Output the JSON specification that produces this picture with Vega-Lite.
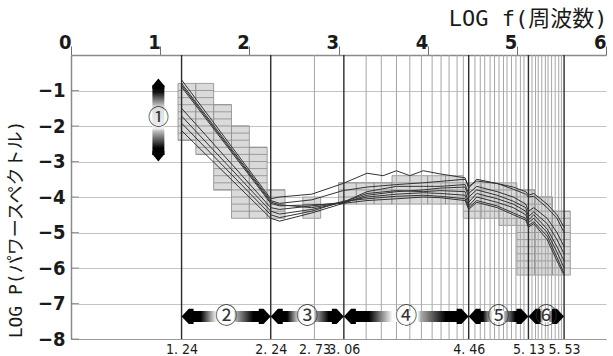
{
"$schema": "https://vega.github.io/schema/vega-lite/v6.json",
"width": 535, "height": 284,
"autosize": {"type": "none"},
"padding": {"left": 71, "top": 55, "right": 7, "bottom": 17},
"background": "white",
"config": {"view": {"stroke": null},
  "axis": {"labelFont": "Liberation Sans Narrow, DejaVu Sans Condensed, Liberation Sans", "labelColor": "#1a1a1a", "titleColor": "#1a1a1a", "domainColor": "#8a8a8a", "tickColor": "#707070", "titleFont": "DejaVu Sans Mono, Noto Sans CJK JP", "titleFontWeight": "normal"}},
"datasets": {
 "cols": [
  {"x":1.2,"x2":1.4,"y":-0.8,"y2":-2.4},{"x":1.4,"x2":1.6,"y":-0.8,"y2":-2.8},{"x":1.6,"x2":1.8,"y":-1.4,"y2":-3.8},
  {"x":1.8,"x2":2.0,"y":-2.0,"y2":-4.6},{"x":2.0,"x2":2.2,"y":-2.6,"y2":-4.6},{"x":2.2,"x2":2.4,"y":-3.8,"y2":-4.6},
  {"x":2.6,"x2":2.8,"y":-4.0,"y2":-4.6},{"x":3.0,"x2":3.2,"y":-3.6,"y2":-4.2},{"x":3.2,"x2":3.4,"y":-3.6,"y2":-4.2},
  {"x":3.4,"x2":3.6,"y":-3.6,"y2":-4.2},{"x":3.6,"x2":3.8,"y":-3.4,"y2":-4.2},{"x":3.8,"x2":4.0,"y":-3.4,"y2":-4.2},
  {"x":4.0,"x2":4.2,"y":-3.4,"y2":-4.2},{"x":4.2,"x2":4.4,"y":-3.4,"y2":-4.2},{"x":4.4,"x2":4.6,"y":-3.6,"y2":-4.6},
  {"x":4.6,"x2":4.8,"y":-3.6,"y2":-4.6},{"x":4.8,"x2":5.0,"y":-3.6,"y2":-4.8},{"x":5.0,"x2":5.2,"y":-3.8,"y2":-6.2},
  {"x":5.2,"x2":5.4,"y":-4.0,"y2":-6.2},{"x":5.4,"x2":5.6,"y":-4.4,"y2":-6.2}
 ],
 "hl": [
  {"x":1.2,"x2":1.6,"y":-1.0},{"x":1.2,"x2":1.6,"y":-1.2},{"x":1.2,"x2":1.8,"y":-1.4},{"x":1.2,"x2":1.8,"y":-1.6},
  {"x":1.2,"x2":1.8,"y":-1.8},{"x":1.2,"x2":2.0,"y":-2.0},{"x":1.2,"x2":2.0,"y":-2.2},{"x":1.2,"x2":2.0,"y":-2.4},
  {"x":1.4,"x2":2.2,"y":-2.6},{"x":1.4,"x2":2.2,"y":-2.8},{"x":1.6,"x2":2.2,"y":-3.0},{"x":1.6,"x2":2.2,"y":-3.2},
  {"x":1.6,"x2":2.2,"y":-3.4},{"x":1.6,"x2":2.2,"y":-3.6},{"x":1.6,"x2":2.4,"y":-3.8},{"x":1.8,"x2":2.4,"y":-4.0},
  {"x":1.8,"x2":2.4,"y":-4.2},{"x":1.8,"x2":2.4,"y":-4.4},{"x":2.6,"x2":2.8,"y":-4.2},{"x":2.6,"x2":2.8,"y":-4.4},
  {"x":3.0,"x2":4.4,"y":-3.6},{"x":3.0,"x2":4.4,"y":-3.8},{"x":3.0,"x2":4.4,"y":-4.0},
  {"x":4.4,"x2":5.2,"y":-3.8},{"x":4.4,"x2":5.4,"y":-4.0},{"x":4.4,"x2":5.4,"y":-4.2},{"x":4.4,"x2":5.6,"y":-4.4},
  {"x":4.8,"x2":5.6,"y":-4.6},{"x":5.0,"x2":5.6,"y":-4.8},{"x":5.0,"x2":5.6,"y":-5.0},{"x":5.0,"x2":5.6,"y":-5.2},
  {"x":5.0,"x2":5.6,"y":-5.4},{"x":5.0,"x2":5.6,"y":-5.6},{"x":5.0,"x2":5.6,"y":-5.8},{"x":5.0,"x2":5.6,"y":-6.0}
 ],
 "gray": [{"x":2.73},{"x":3.31},{"x":3.48},{"x":3.65},{"x":3.80},{"x":3.93},{"x":4.05},{"x":4.15},{"x":4.24},{"x":4.33},{"x":4.40},
  {"x":4.53},{"x":4.59},{"x":4.64},{"x":4.70},{"x":4.75},{"x":4.80},{"x":4.85},{"x":4.89},{"x":4.94},{"x":4.99},{"x":5.04},{"x":5.08},
  {"x":5.17},{"x":5.21},{"x":5.24},{"x":5.28},{"x":5.32},{"x":5.35},{"x":5.39},{"x":5.43},{"x":5.47},{"x":5.50}],
 "black": [{"x":1.24},{"x":2.24},{"x":3.06},{"x":4.46},{"x":5.13},{"x":5.53}],
 "yt": [{"y":-1},{"y":-2},{"y":-3},{"y":-4},{"y":-5},{"y":-6},{"y":-7},{"y":-8}],
 "arr": [{"a":1.24,"b":2.24,"m":1.74,"t":"②"},{"a":2.24,"b":3.06,"m":2.65,"t":"③"},{"a":3.06,"b":4.46,"m":3.76,"t":"④"},{"a":4.46,"b":5.13,"m":4.795,"t":"⑤"},{"a":5.13,"b":5.53,"m":5.33,"t":"⑥"}],
 "curves": [
  {"s":"1","x":1.24,"y":-0.70},{"s":"1","x":2.24,"y":-4.05},{"s":"1","x":2.34,"y":-4.0},{"s":"1","x":2.7,"y":-3.92},{"s":"1","x":3.05,"y":-3.62},{"s":"1","x":3.32,"y":-3.33},{"s":"1","x":3.5,"y":-3.4},{"s":"1","x":3.65,"y":-3.26},{"s":"1","x":3.8,"y":-3.4},{"s":"1","x":3.95,"y":-3.26},{"s":"1","x":4.14,"y":-3.35},{"s":"1","x":4.42,"y":-3.46},{"s":"1","x":4.46,"y":-3.75},{"s":"1","x":4.55,"y":-3.5},{"s":"1","x":4.78,"y":-3.62},{"s":"1","x":4.96,"y":-3.72},{"s":"1","x":5.10,"y":-3.85},{"s":"1","x":5.13,"y":-3.95},{"s":"1","x":5.19,"y":-3.9},{"s":"1","x":5.34,"y":-4.2},{"s":"1","x":5.45,"y":-4.5},{"s":"1","x":5.53,"y":-4.85},
  {"s":"2","x":1.24,"y":-0.80},{"s":"2","x":2.24,"y":-4.1},{"s":"2","x":2.34,"y":-4.18},{"s":"2","x":2.7,"y":-4.08},{"s":"2","x":3.05,"y":-3.82},{"s":"2","x":3.32,"y":-3.72},{"s":"2","x":3.65,"y":-3.65},{"s":"2","x":3.95,"y":-3.6},{"s":"2","x":4.14,"y":-3.56},{"s":"2","x":4.42,"y":-3.5},{"s":"2","x":4.46,"y":-3.7},{"s":"2","x":4.55,"y":-3.55},{"s":"2","x":4.78,"y":-3.62},{"s":"2","x":4.96,"y":-3.78},{"s":"2","x":5.10,"y":-3.92},{"s":"2","x":5.13,"y":-4.0},{"s":"2","x":5.19,"y":-3.98},{"s":"2","x":5.34,"y":-4.3},{"s":"2","x":5.45,"y":-4.6},{"s":"2","x":5.53,"y":-5.0},
  {"s":"3","x":1.24,"y":-0.90},{"s":"3","x":2.24,"y":-4.18},{"s":"3","x":2.34,"y":-4.25},{"s":"3","x":2.7,"y":-4.22},{"s":"3","x":3.05,"y":-4.18},{"s":"3","x":3.32,"y":-3.95},{"s":"3","x":3.65,"y":-3.85},{"s":"3","x":3.95,"y":-3.8},{"s":"3","x":4.14,"y":-3.75},{"s":"3","x":4.42,"y":-3.72},{"s":"3","x":4.46,"y":-4.0},{"s":"3","x":4.55,"y":-3.8},{"s":"3","x":4.78,"y":-3.95},{"s":"3","x":4.96,"y":-4.12},{"s":"3","x":5.10,"y":-4.3},{"s":"3","x":5.13,"y":-4.55},{"s":"3","x":5.19,"y":-4.42},{"s":"3","x":5.34,"y":-4.75},{"s":"3","x":5.45,"y":-5.2},{"s":"3","x":5.53,"y":-5.6},
  {"s":"4","x":1.24,"y":-1.50},{"s":"4","x":2.24,"y":-4.3},{"s":"4","x":2.34,"y":-4.35},{"s":"4","x":2.7,"y":-4.25},{"s":"4","x":3.05,"y":-4.15},{"s":"4","x":3.32,"y":-3.9},{"s":"4","x":3.65,"y":-3.82},{"s":"4","x":3.95,"y":-3.85},{"s":"4","x":4.14,"y":-3.82},{"s":"4","x":4.42,"y":-3.85},{"s":"4","x":4.46,"y":-4.15},{"s":"4","x":4.55,"y":-3.9},{"s":"4","x":4.78,"y":-4.05},{"s":"4","x":4.96,"y":-4.2},{"s":"4","x":5.10,"y":-4.4},{"s":"4","x":5.13,"y":-4.65},{"s":"4","x":5.19,"y":-4.5},{"s":"4","x":5.34,"y":-4.9},{"s":"4","x":5.45,"y":-5.4},{"s":"4","x":5.53,"y":-5.8},
  {"s":"5","x":1.24,"y":-1.72},{"s":"5","x":2.24,"y":-4.4},{"s":"5","x":2.34,"y":-4.48},{"s":"5","x":2.7,"y":-4.35},{"s":"5","x":3.05,"y":-4.15},{"s":"5","x":3.32,"y":-4.0},{"s":"5","x":3.65,"y":-3.92},{"s":"5","x":3.95,"y":-3.88},{"s":"5","x":4.14,"y":-3.9},{"s":"5","x":4.42,"y":-3.95},{"s":"5","x":4.46,"y":-4.25},{"s":"5","x":4.55,"y":-4.0},{"s":"5","x":4.78,"y":-4.15},{"s":"5","x":4.96,"y":-4.3},{"s":"5","x":5.10,"y":-4.5},{"s":"5","x":5.13,"y":-4.72},{"s":"5","x":5.19,"y":-4.6},{"s":"5","x":5.34,"y":-5.0},{"s":"5","x":5.45,"y":-5.55},{"s":"5","x":5.53,"y":-6.0},
  {"s":"6","x":1.24,"y":-1.92},{"s":"6","x":2.24,"y":-4.5},{"s":"6","x":2.34,"y":-4.58},{"s":"6","x":2.7,"y":-4.4},{"s":"6","x":3.05,"y":-4.12},{"s":"6","x":3.32,"y":-4.05},{"s":"6","x":3.65,"y":-3.98},{"s":"6","x":3.95,"y":-3.95},{"s":"6","x":4.14,"y":-3.98},{"s":"6","x":4.42,"y":-4.05},{"s":"6","x":4.46,"y":-4.3},{"s":"6","x":4.55,"y":-4.1},{"s":"6","x":4.78,"y":-4.25},{"s":"6","x":4.96,"y":-4.45},{"s":"6","x":5.10,"y":-4.6},{"s":"6","x":5.13,"y":-4.8},{"s":"6","x":5.19,"y":-4.7},{"s":"6","x":5.34,"y":-5.1},{"s":"6","x":5.45,"y":-5.7},{"s":"6","x":5.53,"y":-6.15},
  {"s":"7","x":1.24,"y":-2.13},{"s":"7","x":2.24,"y":-4.6},{"s":"7","x":2.34,"y":-4.68},{"s":"7","x":2.7,"y":-4.45},{"s":"7","x":3.05,"y":-4.18},{"s":"7","x":3.32,"y":-4.1},{"s":"7","x":3.65,"y":-4.05},{"s":"7","x":3.95,"y":-4.0},{"s":"7","x":4.14,"y":-4.02},{"s":"7","x":4.42,"y":-4.1},{"s":"7","x":4.46,"y":-4.35},{"s":"7","x":4.55,"y":-4.15},{"s":"7","x":4.78,"y":-4.3},{"s":"7","x":4.96,"y":-4.5},{"s":"7","x":5.10,"y":-4.65},{"s":"7","x":5.13,"y":-4.85},{"s":"7","x":5.19,"y":-4.75},{"s":"7","x":5.34,"y":-5.2},{"s":"7","x":5.45,"y":-5.8},{"s":"7","x":5.53,"y":-6.2},
  {"s":"8","x":1.24,"y":-0.85},{"s":"8","x":2.24,"y":-4.14},{"s":"8","x":2.34,"y":-4.22},{"s":"8","x":2.7,"y":-4.3},{"s":"8","x":3.05,"y":-4.15},{"s":"8","x":3.32,"y":-3.85},{"s":"8","x":3.65,"y":-3.7},{"s":"8","x":3.95,"y":-3.7},{"s":"8","x":4.14,"y":-3.7},{"s":"8","x":4.42,"y":-3.65},{"s":"8","x":4.46,"y":-3.9},{"s":"8","x":4.55,"y":-3.7},{"s":"8","x":4.78,"y":-3.85},{"s":"8","x":4.96,"y":-4.0},{"s":"8","x":5.10,"y":-4.2},{"s":"8","x":5.13,"y":-4.4},{"s":"8","x":5.19,"y":-4.3},{"s":"8","x":5.34,"y":-4.6},{"s":"8","x":5.45,"y":-5.0},{"s":"8","x":5.53,"y":-5.4}
 ]
},
"resolve": {"axis": {"x": "independent"}},
"layer": [
 {"data": {"name": "cols"},
  "mark": {"type": "rect", "fill": "#dadada", "stroke": "#8c8c8c", "strokeWidth": 0.8},
  "encoding": {
   "x": {"field": "x", "type": "quantitative", "scale": {"domain": [0, 6], "nice": false, "zero": false},
     "axis": {"orient": "top", "values": [0,1,2,3,4,5,6], "format": "d", "labelFontSize": 20, "labelFontWeight": "bold", "labelAlign": "right", "labelDx": -3,
       "labelFlush": false, "labelOverlap": false, "tickSize": 9, "labelPadding": -6, "domainWidth": 1.5, "grid": false,
       "title": "LOG f(周波数)", "titleFontSize": 22, "titleAlign": "right", "titleAnchor": "end", "titleBaseline": "middle", "titleX": 536, "titleY": -37}},
   "x2": {"field": "x2"},
   "y": {"field": "y", "type": "quantitative", "scale": {"domain": [-8, 0], "nice": false, "zero": false},
     "axis": {"values": [-1,-2,-3,-4,-5,-6,-7,-8], "labelFontSize": 20, "labelFontWeight": "bold", "ticks": false, "tickSize": 0, "labelPadding": 6, "domainWidth": 1.5,
       "grid": true, "gridColor": "#c4c4c4", "gridWidth": 1,
       "title": "LOG P(パワースペクトル)", "titleFontSize": 18, "titleAlign": "center", "titleBaseline": "middle", "titleAngle": -90, "titleX": -55, "titleY": 174}},
   "y2": {"field": "y2"}}},
 {"data": {"name": "yt"},
  "mark": {"type": "tick", "orient": "horizontal", "color": "#707070", "size": 8, "thickness": 1, "xOffset": 4},
  "encoding": {"x": {"datum": 0, "type": "quantitative", "axis": null}, "y": {"field": "y", "type": "quantitative"}}},
 {"data": {"name": "hl"},
  "mark": {"type": "rule", "color": "#8c8c8c", "strokeWidth": 0.8},
  "encoding": {"x": {"field": "x", "type": "quantitative", "axis": null}, "x2": {"field": "x2"}, "y": {"field": "y", "type": "quantitative"}}},
 {"data": {"name": "gray"},
  "mark": {"type": "rule", "color": "#a6a6a6", "strokeWidth": 1},
  "encoding": {"x": {"field": "x", "type": "quantitative", "axis": null}}},
 {"data": {"name": "black"},
  "mark": {"type": "rule", "color": "#2b2b2b", "strokeWidth": 1.4},
  "encoding": {"x": {"field": "x", "type": "quantitative",
    "axis": {"orient": "bottom", "values": [1.24,2.24,2.73,3.06,4.46,5.13,5.53], "labelExpr": "replace(format(datum.value, '.2f'), '.', '. ')",
      "ticks": false, "labelFontSize": 14, "labelPadding": 3, "labelFlush": false, "labelOverlap": false, "grid": false, "title": null,
      "domainColor": "#9a9a9a", "domainWidth": 1.2}}}},
 {"data": {"name": "curves"},
  "mark": {"type": "line", "color": "#333333", "strokeWidth": 1},
  "encoding": {"x": {"field": "x", "type": "quantitative", "axis": null}, "y": {"field": "y", "type": "quantitative"}, "detail": {"field": "s"}}},
 {"data": {"name": "arr"},
  "mark": {"type": "rect", "xOffset": 6, "x2Offset": -6,
    "fill": {"gradient": "linear", "x1": 0, "y1": 0, "x2": 1, "y2": 0, "stops": [
      {"offset": 0, "color": "#000000"}, {"offset": 0.17, "color": "#000000"}, {"offset": 0.38, "color": "#ffffff"},
      {"offset": 0.6, "color": "#ffffff"}, {"offset": 0.63, "color": "#aaaaaa"}, {"offset": 0.85, "color": "#000000"}, {"offset": 1, "color": "#000000"}]}},
  "encoding": {"x": {"field": "a", "type": "quantitative", "axis": null}, "x2": {"field": "b"}, "y": {"datum": -7.21}, "y2": {"datum": -7.52}}},
 {"data": {"name": "arr"},
  "mark": {"type": "point", "shape": "M0,0L0.9,-0.95L1.5,-0.95L1.5,0.95L0.9,0.95Z", "size": 256, "filled": true, "fill": "#000000", "strokeWidth": 0, "opacity": 1},
  "encoding": {"x": {"field": "a", "type": "quantitative", "axis": null}, "y": {"datum": -7.365}}},
 {"data": {"name": "arr"},
  "mark": {"type": "point", "shape": "M0,0L-0.9,-0.95L-1.5,-0.95L-1.5,0.95L-0.9,0.95Z", "size": 256, "filled": true, "fill": "#000000", "strokeWidth": 0, "opacity": 1},
  "encoding": {"x": {"field": "b", "type": "quantitative", "axis": null}, "y": {"datum": -7.365}}},
 {"data": {"name": "arr"},
  "mark": {"type": "text", "font": "Noto Sans CJK JP", "fontSize": 22, "color": "#333333", "baseline": "middle", "align": "center"},
  "encoding": {"x": {"field": "m", "type": "quantitative", "axis": null}, "y": {"datum": -7.365}, "text": {"field": "t"}}},
 {"data": {"values": [{"t": "①"}]},
  "mark": {"type": "rect",
    "fill": {"gradient": "linear", "x1": 0, "y1": 0, "x2": 0, "y2": 1, "stops": [
      {"offset": 0, "color": "#000000"}, {"offset": 0.1, "color": "#111111"}, {"offset": 0.32, "color": "#dddddd"},
      {"offset": 0.62, "color": "#eeeeee"}, {"offset": 0.66, "color": "#bbbbbb"}, {"offset": 0.9, "color": "#000000"}, {"offset": 1, "color": "#000000"}]}},
  "encoding": {"x": {"datum": 0.913, "type": "quantitative", "axis": null}, "x2": {"datum": 1.047}, "y": {"datum": -0.85}, "y2": {"datum": -2.82}}},
 {"data": {"values": [{"t": "①"}]},
  "mark": {"type": "point", "shape": "M0,0L0.75,0.9L0.75,1.3L-0.75,1.3L-0.75,0.9Z", "size": 256, "filled": true, "fill": "#000000", "strokeWidth": 0, "opacity": 1},
  "encoding": {"x": {"datum": 0.98, "type": "quantitative", "axis": null}, "y": {"datum": -0.66}}},
 {"data": {"values": [{"t": "①"}]},
  "mark": {"type": "point", "shape": "M0,0L0.75,-0.9L0.75,-1.3L-0.75,-1.3L-0.75,-0.9Z", "size": 256, "filled": true, "fill": "#000000", "strokeWidth": 0, "opacity": 1},
  "encoding": {"x": {"datum": 0.98, "type": "quantitative", "axis": null}, "y": {"datum": -3.0}}},
 {"data": {"values": [{"t": "①"}]},
  "mark": {"type": "text", "font": "Noto Sans CJK JP", "fontSize": 21, "color": "#333333", "baseline": "middle", "align": "center"},
  "encoding": {"x": {"datum": 0.98, "type": "quantitative", "axis": null}, "y": {"datum": -1.78}, "text": {"field": "t"}}}
]
}
